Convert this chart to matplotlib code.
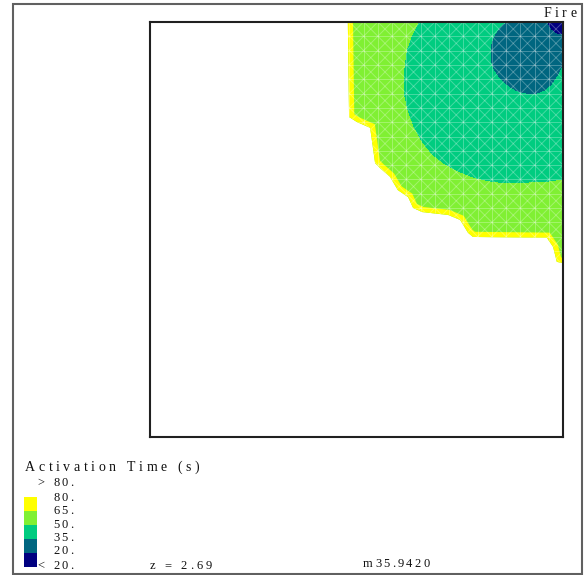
import numpy as np
import matplotlib
matplotlib.use("Agg")
import matplotlib.pyplot as plt
import matplotlib.tri as mtri
from matplotlib.patches import Polygon, Rectangle
from matplotlib.collections import LineCollection
from matplotlib.font_manager import FontProperties
from matplotlib.textpath import TextToPath

# ------------------------------------------------------------------ data
# activation-time levels (s) and colours of the bands between them
levels = [0, 20, 35, 50, 65, 80]
band_colors = ["#000080", "#006680", "#00CC80", "#80F033", "#FFFF00"]
level_labels = ["80.", "65.", "50.", "35.", "20."]

# rays from the fire corner (10, 10): 0 deg = along top wall, 90 deg = along right wall
angles_deg = [0, 5, 10, 15, 20, 25, 30, 35, 40, 45, 50, 55, 60, 65, 70, 75, 80, 85, 90]
# distance (m) from the corner where activation time reaches 20 s, 35 s and 50 s
r_20s = [0.39, 0.39, 0.38, 0.37, 0.36, 0.36, 0.35, 0.35, 0.34, 0.34,
         0.34, 0.33, 0.33, 0.33, 0.32, 0.32, 0.32, 0.31, 0.31]
r_35s = [1.40, 1.55, 1.68, 1.79, 1.88, 1.95, 2.01, 2.05, 2.06, 2.06,
         2.05, 2.03, 1.99, 1.93, 1.85, 1.73, 1.55, 1.30, 1.08]
r_50s = [3.51, 3.68, 3.85, 3.98, 4.12, 4.25, 4.35, 4.43, 4.49, 4.52,
         4.49, 4.42, 4.35, 4.25, 4.15, 4.03, 3.93, 3.87, 3.81]
t_corner = 10.0      # activation time at the corner (s)
t_outer = 64.0       # activation time at the outer ring (s)
r_outer = 7.0        # outer ring distance (m)

# activation front (edge of the activated region), metres
front_x = [4.79, 4.82, 5.01, 5.33, 5.45, 5.57, 5.81, 6.00, 6.25, 6.37,
           6.59, 7.22, 7.51, 7.70, 7.82, 9.61, 9.76, 9.85, 10.0]
front_y = [10.0, 7.71, 7.59, 7.45, 6.60, 6.48, 6.27, 5.95, 5.78, 5.52,
           5.42, 5.35, 5.23, 4.92, 4.82, 4.80, 4.58, 4.22, 4.19]

corner = (10.0, 10.0)
z_label = "z = 2.69"
id_label = "m35.9420"
title = "Activation Time (s)"

# ------------------------------------------------------------------ figure
W, H = 584, 575
fig = plt.figure(figsize=(W / 100, H / 100), dpi=100)
fig.patch.set_facecolor("white")


def fpx(x, y):
    return x / W, 1 - y / H


ax = fig.add_axes([150 / W, (H - 437) / H, 413 / W, 415 / H])
ax.set_xlim(0, 10)
ax.set_ylim(0, 10)
ax.set_xticks([])
ax.set_yticks([])
for s in ax.spines.values():
    s.set_color("#202020")
    s.set_linewidth(1.5)

# build structured triangulation of the field
th = np.radians(angles_deg)
nth = len(th)
rings = [np.array(r_20s), np.array(r_35s), np.array(r_50s), np.full(nth, r_outer)]
ring_t = [levels[1], levels[2], levels[3], t_outer]
xs = [corner[0]]
ys = [corner[1]]
zs = [t_corner]
for r, t in zip(rings, ring_t):
    xs.extend(corner[0] - r * np.cos(th))
    ys.extend(corner[1] - r * np.sin(th))
    zs.extend([t] * nth)


def idx(k, j):
    return 1 + k * nth + j


tris = []
for j in range(nth - 1):
    tris.append([0, idx(0, j), idx(0, j + 1)])
for k in range(len(rings) - 1):
    for j in range(nth - 1):
        tris.append([idx(k, j), idx(k, j + 1), idx(k + 1, j + 1)])
        tris.append([idx(k, j), idx(k + 1, j + 1), idx(k + 1, j)])
tri = mtri.Triangulation(np.array(xs), np.array(ys), np.array(tris))

clip_verts = list(zip(front_x, front_y)) + [(10.0, 10.0)]
clip_patch = Polygon(clip_verts, closed=True, transform=ax.transData,
                     facecolor="none", edgecolor="none")
ax.add_patch(clip_patch)

cs = ax.tricontourf(tri, np.array(zs), levels=levels, colors=band_colors)
cs.set_clip_path(clip_patch)

# thin 65-80 s band along the activation front
band, = ax.plot(front_x, front_y, color=band_colors[4], lw=7.5,
                solid_joinstyle="miter", solid_capstyle="projecting")
band.set_clip_path(clip_patch)

# faint mesh overlay
step = 0.345
segs = []
for k in range(0, 30):
    v = 10 - k * step
    segs.append([(v, 0), (v, 10)])
    segs.append([(0, v), (10, v)])
for k in range(-30, 30):
    c = k * step
    segs.append([(c - 10, -10), (c + 20, 20)])
    segs.append([(c - 10, 20), (c + 20, -10)])
mesh = LineCollection(segs, colors="white", linewidths=0.7, alpha=0.28)
ax.add_collection(mesh)
mesh.set_clip_path(clip_patch)

# ------------------------------------------------------------------ text
ttp = TextToPath()


def tracked(x, y, s, size, track=2.3, color="#101010"):
    fp = FontProperties(family="Liberation Serif", size=size)
    for ch in s:
        if ch == " ":
            x += size * 0.25 * 100 / 72 + track
            continue
        w, h, d = ttp.get_text_width_height_descent(ch, fp, ismath=False)
        fig.text(*fpx(x, y), ch, fontproperties=fp, ha="left", va="baseline",
                 color=color)
        x += w * 100 / 72 + track


tracked(25, 471, title, 10.0, track=3.6)

tracked(37, 486, ">", 9.0)
tracked(53, 486, level_labels[0], 9.0)
for i, lab in enumerate(level_labels):
    tracked(53, 501 + 13.3 * i, lab, 9.0)
tracked(37, 569, "<", 9.0)
tracked(53, 569, level_labels[-1], 9.0)

# legend swatches (top = highest band)
for i, col in enumerate(band_colors[::-1]):
    top = 497 + 14 * i
    fig.add_artist(Rectangle(fpx(24, top + 14), 13 / W, 14 / H,
                             transform=fig.transFigure, facecolor=col,
                             edgecolor="none"))

tracked(150, 569, z_label, 9.0, track=3.0)
tracked(363, 567, id_label, 9.0)
tracked(544, 17, "Fire", 10.0, track=3.3)

# outer frame
fig.add_artist(Rectangle(fpx(12.5, 573.5), (582 - 12.5) / W, (573.5 - 3.5) / H,
                         transform=fig.transFigure, fill=False,
                         edgecolor="#606060", linewidth=1.5))

fig.savefig("out.png", dpi=100, facecolor="white")
